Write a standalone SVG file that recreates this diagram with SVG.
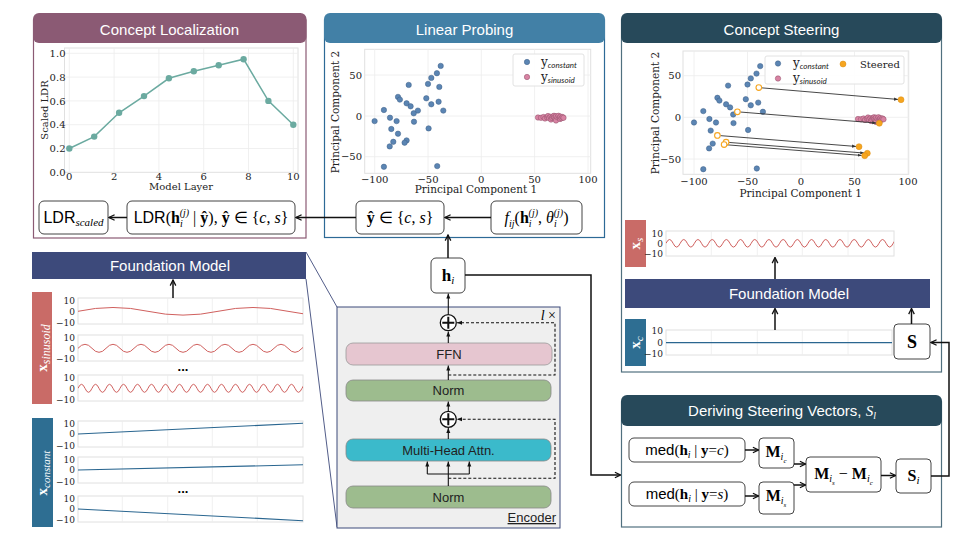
<svg xmlns="http://www.w3.org/2000/svg" width="973" height="540" viewBox="0 0 973 540">
<style>
.sf{font-family:"Liberation Sans",Arial,sans-serif}
.hdr{font-family:"Liberation Sans",Arial,sans-serif;font-size:15px;fill:#fff;text-anchor:middle}
.mr{font-family:"Liberation Serif","Times New Roman",serif}
.mb{font-family:"Liberation Serif","Times New Roman",serif;font-weight:bold}
.mi{font-family:"Liberation Serif","Times New Roman",serif;font-style:italic}
.pl{font-family:"DejaVu Serif",serif;font-size:10px;fill:#222}
.tk{font-family:"DejaVu Serif",serif;font-size:9px;fill:#222;text-anchor:end}
.box{fill:#fff;stroke:#444;stroke-width:1}
.con{fill:none;stroke:#111;stroke-width:1.5}
.thin{fill:none;stroke:#111;stroke-width:1.1}
.dash{fill:none;stroke:#111;stroke-width:1.1;stroke-dasharray:3 2}
.grid{stroke:#ECECEC;stroke-width:0.8;fill:none}
.frame{fill:#fff;stroke:#E0E0E0;stroke-width:1}
.bp{fill:#5B85B3;stroke:#3D5F86;stroke-width:0.5}
.pp{fill:#D883A3;stroke:#8E4D66;stroke-width:0.5}
.of{fill:#F6A51F;stroke:#D98A10;stroke-width:0.5}
.oh{fill:#fff;stroke:#F6A51F;stroke-width:1.1}
.sin{fill:none;stroke:#D0605E;stroke-width:1}
.cst{fill:none;stroke:#2A6690;stroke-width:1.1}
</style>
<defs>
<marker id="ah" viewBox="0 0 10 10" refX="9" refY="5" markerWidth="8" markerHeight="8" orient="auto" markerUnits="userSpaceOnUse"><path d="M2,1.5 L9,5 L2,8.5" fill="none" stroke="#111" stroke-width="1.6"/></marker>
<marker id="as" viewBox="0 0 10 10" refX="10" refY="5" markerWidth="5" markerHeight="5" orient="auto" markerUnits="userSpaceOnUse"><path d="M0,1 L10,5 L0,9 z" fill="#111"/></marker>
<marker id="ag" viewBox="0 0 10 10" refX="10" refY="5" markerWidth="4" markerHeight="4" orient="auto" markerUnits="userSpaceOnUse"><path d="M0,1 L10,5 L0,9 z" fill="#333"/></marker>
<clipPath id="c1"><rect x="78" y="298" width="225" height="26"/></clipPath>
<clipPath id="c2"><rect x="78" y="335" width="225" height="26"/></clipPath>
<clipPath id="c3"><rect x="78" y="375" width="225" height="26"/></clipPath>
<clipPath id="c7"><rect x="666" y="231" width="228" height="25"/></clipPath>
</defs>

<!-- Concept Localization -->
<g id="concept-localization">
<rect x="33.5" y="20" width="272.5" height="218" fill="#fff" stroke="#8B5A74" stroke-width="1.2"/>
<rect x="33" y="13" width="273.5" height="30" rx="6" fill="#8B5A74"/>
<text class="hdr" x="169.5" y="34.5">Concept Localization</text>
<rect class="frame" x="64.5" y="48" width="233.5" height="124.3"/>
<path class="grid" d="M69.3,48V172.3M114.1,48V172.3M158.9,48V172.3M203.7,48V172.3M248.5,48V172.3M293.3,48V172.3M64.5,148.5H298M64.5,124.7H298M64.5,100.9H298M64.5,77.1H298M64.5,53.3H298"/>
<polyline fill="none" stroke="#6BAAA0" stroke-width="1.5" points="69.3,148.5 94.2,136.6 119.1,112.8 144,96.1 168.9,78.3 193.8,71.2 218.7,65.2 243.6,59.2 268.4,100.9 293.3,124.7"/>
<g fill="#6BAAA0">
<circle cx="69.3" cy="148.5" r="3.2"/><circle cx="94.2" cy="136.6" r="3.2"/><circle cx="119.1" cy="112.8" r="3.2"/><circle cx="144" cy="96.1" r="3.2"/><circle cx="168.9" cy="78.3" r="3.2"/><circle cx="193.8" cy="71.2" r="3.2"/><circle cx="218.7" cy="65.2" r="3.2"/><circle cx="243.6" cy="59.2" r="3.2"/><circle cx="268.4" cy="100.9" r="3.2"/><circle cx="293.3" cy="124.7" r="3.2"/>
</g>
<g class="pl" text-anchor="end" font-size="10.5">
<text x="65.5" y="57">1.0</text><text x="65.5" y="80.8">0.8</text><text x="65.5" y="104.6">0.6</text><text x="65.5" y="128.4">0.4</text><text x="65.5" y="152.2">0.2</text><text x="65.5" y="176">0.0</text>
</g>
<g class="pl" text-anchor="middle" font-size="10.5">
<text x="69.3" y="180">0</text><text x="114.1" y="180">2</text><text x="158.9" y="180">4</text><text x="203.7" y="180">6</text><text x="248.5" y="180">8</text><text x="293.3" y="180">10</text>
<text x="181" y="190">Model Layer</text>
<text transform="translate(47.5,110) rotate(-90)">Scaled LDR</text>
</g>
</g>

<!-- Linear Probing -->
<g id="linear-probing">
<rect x="324.5" y="20" width="280" height="217.5" fill="#fff" stroke="#2D6A96" stroke-width="1.2"/>
<rect x="324" y="13" width="281" height="30" rx="6" fill="#4280A6"/>
<text class="hdr" x="464.5" y="34.5">Linear Probing</text>
<rect class="frame" x="364.7" y="49.3" width="226" height="124"/>
<path class="grid" d="M374.7,49.3V173.3M428,49.3V173.3M481.3,49.3V173.3M534.6,49.3V173.3M588,49.3V173.3M364.7,75H590.7M364.7,116H590.7M364.7,156.7H590.7"/>
<g class="bp">
<circle cx="440.7" cy="65.9" r="2.7"/><circle cx="436.9" cy="73.2" r="2.7"/><circle cx="431.3" cy="77.9" r="2.7"/><circle cx="439.3" cy="86.9" r="2.7"/><circle cx="408.7" cy="84.9" r="2.7"/><circle cx="428" cy="83.9" r="2.7"/><circle cx="398" cy="96.9" r="2.7"/><circle cx="399.9" cy="99.6" r="2.7"/><circle cx="426.3" cy="98.3" r="2.7"/><circle cx="438.6" cy="101.7" r="2.7"/><circle cx="406.6" cy="103.3" r="2.7"/><circle cx="410.6" cy="106.3" r="2.7"/><circle cx="431.3" cy="104.3" r="2.7"/><circle cx="443.3" cy="110.6" r="2.7"/><circle cx="383.9" cy="110" r="2.7"/><circle cx="417.9" cy="110.6" r="2.7"/><circle cx="413.7" cy="113.3" r="2.7"/><circle cx="374.6" cy="121.1" r="2.7"/><circle cx="390" cy="117.7" r="2.7"/><circle cx="396.6" cy="121.1" r="2.7"/><circle cx="414" cy="121.7" r="2.7"/><circle cx="428.6" cy="128.4" r="2.7"/><circle cx="391.3" cy="129" r="2.7"/><circle cx="398" cy="133.7" r="2.7"/><circle cx="406.6" cy="140.4" r="2.7"/><circle cx="404.6" cy="142.7" r="2.7"/><circle cx="393.3" cy="141.8" r="2.7"/><circle cx="389.7" cy="146.4" r="2.7"/><circle cx="383.9" cy="166.8" r="2.7"/><circle cx="437.2" cy="166.1" r="2.7"/>
</g>
<g class="pp">
<circle cx="538" cy="117.5" r="2.7"/><circle cx="541" cy="117.8" r="2.7"/><circle cx="543.5" cy="117" r="2.7"/><circle cx="545" cy="118.5" r="2.7"/><circle cx="547" cy="117.2" r="2.7"/><circle cx="548" cy="116" r="2.7"/><circle cx="549" cy="118" r="2.7"/><circle cx="550.5" cy="116.8" r="2.7"/><circle cx="551" cy="119.5" r="2.7"/><circle cx="552" cy="117.9" r="2.7"/><circle cx="553" cy="116.5" r="2.7"/><circle cx="554" cy="115.8" r="2.7"/><circle cx="554.5" cy="117.5" r="2.7"/><circle cx="555.5" cy="118.8" r="2.7"/><circle cx="556" cy="116.2" r="2.7"/><circle cx="556" cy="120.5" r="2.7"/><circle cx="557.5" cy="117.3" r="2.7"/><circle cx="558.5" cy="115.8" r="2.7"/><circle cx="559.5" cy="117.8" r="2.7"/><circle cx="560" cy="119" r="2.7"/><circle cx="560.5" cy="116.6" r="2.7"/><circle cx="561.5" cy="118.2" r="2.7"/><circle cx="562.5" cy="117" r="2.7"/><circle cx="563.5" cy="117.8" r="2.7"/>
</g>
<rect x="513" y="54" width="71" height="32" rx="2" fill="#fff" fill-opacity="0.9" stroke="#E2E2E2"/>
<circle class="bp" cx="527" cy="62" r="2.7"/>
<circle class="pp" cx="527" cy="77" r="2.7"/>
<text x="541" y="65.5" font-family="DejaVu Serif,serif" font-size="12" fill="#222">y<tspan font-family="Lato,'Open Sans',sans-serif" font-style="italic" font-size="8" dy="2">constant</tspan></text>
<text x="541" y="80.5" font-family="DejaVu Serif,serif" font-size="12" fill="#222">y<tspan font-family="Lato,'Open Sans',sans-serif" font-style="italic" font-size="8" dy="2">sinusoid</tspan></text>
<g class="pl" text-anchor="end">
<text x="362" y="78.6">50</text><text x="362" y="119.6">0</text><text x="362" y="160.3">−50</text>
</g>
<g class="pl" text-anchor="middle">
<text x="374.7" y="182.5">−100</text><text x="428" y="182.5">−50</text><text x="481.3" y="182.5">0</text><text x="534.6" y="182.5">50</text><text x="588" y="182.5">100</text>
<text x="476" y="193" font-size="10.5">Principal Component 1</text>
<text transform="translate(338.5,112) rotate(-90)" font-size="10.5">Principal Component 2</text>
</g>
</g>

<!-- Concept Steering -->
<g id="concept-steering">
<rect x="621.5" y="20" width="320" height="352" fill="#fff" stroke="#50707F" stroke-width="1.2"/>
<rect x="621" y="13" width="321" height="30" rx="6" fill="#27495A"/>
<text class="hdr" x="781.5" y="34.5">Concept Steering</text>
<rect class="frame" x="683" y="51" width="225.7" height="123.3"/>
<path class="grid" d="M694,51V174.3M747.5,51V174.3M801,51V174.3M854.5,51V174.3M908,51V174.3M683,75.7H908.7M683,117.3H908.7M683,159H908.7"/>
<g class="bp">
<circle cx="760.2" cy="66.1" r="2.7"/><circle cx="756.5" cy="73.6" r="2.7"/><circle cx="750.8" cy="78.4" r="2.7"/><circle cx="728.1" cy="85.6" r="2.7"/><circle cx="747.5" cy="84.5" r="2.7"/><circle cx="717.4" cy="97.8" r="2.7"/><circle cx="719.4" cy="100.6" r="2.7"/><circle cx="745.8" cy="99.2" r="2.7"/><circle cx="758.2" cy="102.6" r="2.7"/><circle cx="726.1" cy="104.3" r="2.7"/><circle cx="730.1" cy="107.4" r="2.7"/><circle cx="750.8" cy="105.3" r="2.7"/><circle cx="762.9" cy="111.8" r="2.7"/><circle cx="703.3" cy="111.1" r="2.7"/><circle cx="733.2" cy="114.5" r="2.7"/><circle cx="694" cy="122.5" r="2.7"/><circle cx="709.4" cy="119" r="2.7"/><circle cx="716" cy="122.5" r="2.7"/><circle cx="733.5" cy="123.1" r="2.7"/><circle cx="748.1" cy="130" r="2.7"/><circle cx="710.7" cy="130.6" r="2.7"/><circle cx="712.7" cy="143.6" r="2.7"/><circle cx="709.1" cy="148.4" r="2.7"/><circle cx="703.3" cy="169.2" r="2.7"/><circle cx="756.8" cy="168.5" r="2.7"/>
</g>
<g class="pp">
<circle cx="858" cy="119" r="2.7"/><circle cx="861" cy="119.3" r="2.7"/><circle cx="863.5" cy="118.5" r="2.7"/><circle cx="865" cy="120" r="2.7"/><circle cx="867" cy="118.7" r="2.7"/><circle cx="868" cy="117.5" r="2.7"/><circle cx="869" cy="119.5" r="2.7"/><circle cx="870.5" cy="118.3" r="2.7"/><circle cx="871" cy="121" r="2.7"/><circle cx="872" cy="119.4" r="2.7"/><circle cx="873" cy="118" r="2.7"/><circle cx="874" cy="117.3" r="2.7"/><circle cx="874.5" cy="119" r="2.7"/><circle cx="875.5" cy="120.3" r="2.7"/><circle cx="876" cy="117.7" r="2.7"/><circle cx="876" cy="122" r="2.7"/><circle cx="877.5" cy="118.8" r="2.7"/><circle cx="878.5" cy="117.3" r="2.7"/><circle cx="879.5" cy="119.3" r="2.7"/><circle cx="880" cy="120.5" r="2.7"/><circle cx="880.5" cy="118.1" r="2.7"/><circle cx="881.5" cy="119.7" r="2.7"/><circle cx="882.5" cy="118.5" r="2.7"/><circle cx="883.5" cy="119.3" r="2.7"/>
</g>
<g fill="none" stroke="#333" stroke-width="0.9" marker-end="url(#ag)">
<line x1="761.8" y1="87.85" x2="898" y2="99.45"/>
<line x1="740.4" y1="112.04" x2="876.3" y2="123.06"/>
<line x1="720.4" y1="135.64" x2="856" y2="146.46"/>
<line x1="729.1" y1="142.44" x2="864.3" y2="153.06"/>
<line x1="727.1" y1="144.84" x2="861.7" y2="155.46"/>
</g>
<g class="oh">
<circle cx="758.8" cy="87.6" r="2.8"/><circle cx="737.4" cy="111.8" r="2.8"/><circle cx="717.4" cy="135.4" r="2.8"/><circle cx="726.1" cy="142.2" r="2.8"/><circle cx="724.1" cy="144.6" r="2.8"/>
</g>
<g class="of">
<circle cx="901" cy="99.7" r="3"/><circle cx="879.3" cy="123.3" r="3"/><circle cx="859" cy="146.7" r="3"/><circle cx="867.3" cy="153.3" r="3"/><circle cx="864.7" cy="155.7" r="3"/>
</g>
<rect x="765" y="56" width="139" height="28" rx="2" fill="#fff" fill-opacity="0.9" stroke="#E2E2E2"/>
<circle class="bp" cx="778" cy="63.5" r="2.7"/>
<circle class="pp" cx="778" cy="78.5" r="2.7"/>
<circle class="of" cx="843" cy="64" r="3"/>
<text x="793" y="67" font-family="DejaVu Serif,serif" font-size="12" fill="#222">y<tspan font-family="Lato,'Open Sans',sans-serif" font-style="italic" font-size="8" dy="2">constant</tspan></text>
<text x="793" y="82" font-family="DejaVu Serif,serif" font-size="12" fill="#222">y<tspan font-family="Lato,'Open Sans',sans-serif" font-style="italic" font-size="8" dy="2">sinusoid</tspan></text>
<text x="860" y="67.5" class="pl" font-size="10.5">Steered</text>
<g class="pl" text-anchor="end">
<text x="681" y="79.3">50</text><text x="681" y="120.9">0</text><text x="681" y="162.6">−50</text>
</g>
<g class="pl" text-anchor="middle">
<text x="694" y="185">−100</text><text x="747.5" y="185">−50</text><text x="801" y="185">0</text><text x="854.5" y="185">50</text><text x="908" y="185">100</text>
<text x="800.7" y="196.5" font-size="10.5">Principal Component 1</text>
<text transform="translate(658.5,113) rotate(-90)" font-size="10.5">Principal Component 2</text>
</g>
</g>

<!-- steering: x_s plot -->
<g id="xs-plot">
<rect x="625" y="220" width="21" height="47" fill="#C96B67"/>
<text transform="translate(640,243.5) rotate(-90)" text-anchor="middle" fill="#fff"><tspan class="mb" font-size="15">x</tspan><tspan class="mi" font-size="11" dy="3">s</tspan></text>
<rect class="frame" x="666" y="231" width="228" height="25"/>
<path class="grid" d="M711.3,231V256M757.3,231V256M802.3,231V256M848,231V256"/>
<path class="sin" clip-path="url(#c7)" d="M666,243.3 q3.55,-7.6 7.1,0 t7.1,0 t7.1,0 t7.1,0 t7.1,0 t7.1,0 t7.1,0 t7.1,0 t7.1,0 t7.1,0 t7.1,0 t7.1,0 t7.1,0 t7.1,0 t7.1,0 t7.1,0 t7.1,0 t7.1,0 t7.1,0 t7.1,0 t7.1,0 t7.1,0 t7.1,0 t7.1,0 t7.1,0 t7.1,0 t7.1,0 t7.1,0 t7.1,0 t7.1,0 t7.1,0 t7.1,0 t7.1,0"/>
<text class="tk" x="663" y="236.5">10</text><text class="tk" x="663" y="246.5">0</text><text class="tk" x="663" y="257.2">−10</text>
</g>
<g id="fm-right">
<rect x="625" y="279" width="305" height="29" fill="#3D4A7B"/>
<text class="hdr" x="789" y="299">Foundation Model</text>
</g>
<g id="xc-plot">
<rect x="625" y="319" width="21" height="47" fill="#2E6E92"/>
<text transform="translate(640,342.5) rotate(-90)" text-anchor="middle" fill="#fff"><tspan class="mb" font-size="15">x</tspan><tspan class="mi" font-size="11" dy="3">c</tspan></text>
<rect class="frame" x="666" y="330" width="226" height="25"/>
<path class="grid" d="M711.3,330V355M757.3,330V355M802.3,330V355M848,330V355"/>
<path class="cst" d="M666,342.6 H892"/>
<text class="tk" x="663" y="334.2">10</text><text class="tk" x="663" y="345.5">0</text><text class="tk" x="663" y="356.5">−10</text>
</g>
<g id="steer-S">
<rect class="box" x="894" y="324" width="36" height="35" rx="4"/>
<text class="mb" x="912" y="348" font-size="18" text-anchor="middle">S</text>
</g>

<!-- Deriving Steering Vectors -->
<g id="deriving-steering">
<rect x="621.5" y="402" width="320" height="125" fill="#fff" stroke="#50707F" stroke-width="1.2"/>
<rect x="621" y="395" width="321" height="31" rx="6" fill="#27495A"/>
<text x="782" y="416" text-anchor="middle" fill="#fff"><tspan class="sf" font-size="15">Deriving Steering Vectors, </tspan><tspan class="mi" font-size="15">S</tspan><tspan class="mi" font-size="10" dy="3">l</tspan></text>
</g>
<g id="med-c">
<rect class="box" x="629" y="438" width="116" height="24" rx="5"/>
<text x="687" y="455" text-anchor="middle" font-size="15"><tspan class="sf">med</tspan><tspan class="mr">(</tspan><tspan class="mb">h</tspan><tspan class="mi" font-size="10" dy="3">i</tspan><tspan class="mr" dy="-3"> | </tspan><tspan class="mb">y</tspan><tspan class="mr">=</tspan><tspan class="mi">c</tspan><tspan class="mr">)</tspan></text>
</g>
<g id="med-s">
<rect class="box" x="629" y="482" width="116" height="24" rx="5"/>
<text x="687" y="499" text-anchor="middle" font-size="15"><tspan class="sf">med</tspan><tspan class="mr">(</tspan><tspan class="mb">h</tspan><tspan class="mi" font-size="10" dy="3">i</tspan><tspan class="mr" dy="-3"> | </tspan><tspan class="mb">y</tspan><tspan class="mr">=</tspan><tspan class="mi">s</tspan><tspan class="mr">)</tspan></text>
</g>
<g id="M-ic">
<rect class="box" x="759" y="438" width="35" height="30" rx="4"/>
<text x="776" y="457" text-anchor="middle"><tspan class="mb" font-size="16">M</tspan><tspan class="mi" font-size="10" dy="3">i</tspan><tspan class="mi" font-size="7" dy="3">c</tspan></text>
</g>
<g id="M-is">
<rect class="box" x="759" y="482" width="35" height="32" rx="4"/>
<text x="776" y="501" text-anchor="middle"><tspan class="mb" font-size="16">M</tspan><tspan class="mi" font-size="10" dy="3">i</tspan><tspan class="mi" font-size="7" dy="3">s</tspan></text>
</g>
<g id="M-diff">
<rect class="box" x="806" y="457" width="75" height="35" rx="4"/>
<text x="843.5" y="479" text-anchor="middle"><tspan class="mb" font-size="16">M</tspan><tspan class="mi" font-size="10" dy="3">i</tspan><tspan class="mi" font-size="7" dy="3">s</tspan><tspan class="mr" font-size="16" dy="-6"> − </tspan><tspan class="mb" font-size="16">M</tspan><tspan class="mi" font-size="10" dy="3">i</tspan><tspan class="mi" font-size="7" dy="3">c</tspan></text>
</g>
<g id="S-i">
<rect class="box" x="896" y="459" width="35" height="34" rx="4"/>
<text x="913.5" y="481" text-anchor="middle"><tspan class="mb" font-size="16">S</tspan><tspan class="mi" font-size="11" dy="3">i</tspan></text>
</g>

<!-- formula row -->
<g id="ldr-scaled">
<rect class="box" x="39" y="201" width="69" height="33" rx="5"/>
<text x="73.5" y="223" text-anchor="middle"><tspan class="sf" font-size="16">LDR</tspan><tspan class="mi" font-size="11" dy="3">scaled</tspan></text>
</g>
<g id="ldr">
<rect class="box" x="127" y="201" width="168" height="33" rx="5"/>
<text x="211" y="223" text-anchor="middle" font-size="16"><tspan class="sf">LDR</tspan><tspan class="mr">(</tspan><tspan class="mb">h</tspan><tspan class="mi" font-size="10" dy="4">i</tspan><tspan class="mi" font-size="10" dx="-3" dy="-11">(j)</tspan><tspan class="mr" dy="7"> | </tspan><tspan class="mb">ŷ</tspan><tspan class="mr">), </tspan><tspan class="mb">ŷ</tspan><tspan class="mr"> ∈ {</tspan><tspan class="mi">c</tspan><tspan class="mr">, </tspan><tspan class="mi">s</tspan><tspan class="mr">}</tspan></text>
</g>
<g id="y-hat">
<rect class="box" x="356" y="201" width="88" height="33" rx="5"/>
<text x="400" y="223" text-anchor="middle" font-size="16"><tspan class="mb">ŷ</tspan><tspan class="mr"> ∈ {</tspan><tspan class="mi">c</tspan><tspan class="mr">, </tspan><tspan class="mi">s</tspan><tspan class="mr">}</tspan></text>
</g>
<g id="f-ij">
<rect class="box" x="491" y="201" width="91" height="33" rx="5"/>
<text x="536.5" y="223" text-anchor="middle" font-size="16"><tspan class="mi">f</tspan><tspan class="mi" font-size="10" dy="4">ij</tspan><tspan class="mr" dy="-4">(</tspan><tspan class="mb">h</tspan><tspan class="mi" font-size="10" dy="4">i</tspan><tspan class="mi" font-size="10" dx="-3" dy="-11">(j)</tspan><tspan class="mr" dy="7">, </tspan><tspan class="mi">θ</tspan><tspan class="mi" font-size="10" dy="4">i</tspan><tspan class="mi" font-size="10" dx="-3" dy="-11">(j)</tspan><tspan class="mr" dy="7">)</tspan></text>
</g>
<g id="h-i">
<rect class="box" x="431" y="258" width="34" height="35" rx="5"/>
<text x="448" y="280.5" text-anchor="middle"><tspan class="mb" font-size="17">h</tspan><tspan class="mi" font-size="11" dy="3">i</tspan></text>
</g>

<!-- Foundation model (left) and inputs -->
<g id="zoom-lines" fill="none" stroke="#3D4A7B" stroke-width="0.9">
<line x1="306" y1="252" x2="337" y2="307"/>
<line x1="306" y1="279" x2="337" y2="527"/>
</g>
<g id="fm-left">
<rect x="32" y="252" width="274" height="27" fill="#3D4A7B"/>
<text class="hdr" x="170" y="271">Foundation Model</text>
</g>
<g id="x-sinusoid">
<rect x="32" y="292" width="20" height="112" fill="#C96B67"/>
<text transform="translate(46.5,348) rotate(-90)" text-anchor="middle" fill="#fff"><tspan class="mb" font-size="15">x</tspan><tspan class="mi" font-size="12" dy="3">sinusoid</tspan></text>
<rect class="frame" x="78" y="298" width="225" height="26"/>
<rect class="frame" x="78" y="335" width="225" height="26"/>
<rect class="frame" x="78" y="375" width="225" height="26"/>
<path class="grid" d="M122.3,298V324M167.7,298V324M212.3,298V324M257.3,298V324M122.3,335V361M167.7,335V361M212.3,335V361M257.3,335V361M122.3,375V401M167.7,375V401M212.3,375V401M257.3,375V401"/>
<path class="sin" clip-path="url(#c1)" d="M78,311.3 q35,-7.6 70,0 t70,0 t70,0 t70,0"/>
<path class="sin" clip-path="url(#c2)" d="M78,348.3 q7,-8 14,0 t14,0 t14,0 t14,0 t14,0 t14,0 t14,0 t14,0 t14,0 t14,0 t14,0 t14,0 t14,0 t14,0 t14,0 t14,0 t14,0"/>
<path class="sin" clip-path="url(#c3)" d="M78,388.3 q3.5,-8 7,0 t7,0 t7,0 t7,0 t7,0 t7,0 t7,0 t7,0 t7,0 t7,0 t7,0 t7,0 t7,0 t7,0 t7,0 t7,0 t7,0 t7,0 t7,0 t7,0 t7,0 t7,0 t7,0 t7,0 t7,0 t7,0 t7,0 t7,0 t7,0 t7,0 t7,0 t7,0 t7,0"/>
<text class="tk" x="75" y="303.9">10</text><text class="tk" x="75" y="314.5">0</text><text class="tk" x="75" y="325.5">−10</text>
<text class="tk" x="75" y="340.9">10</text><text class="tk" x="75" y="351.5">0</text><text class="tk" x="75" y="362.2">−10</text>
<text class="tk" x="75" y="380.9">10</text><text class="tk" x="75" y="391.5">0</text><text class="tk" x="75" y="402.5">−10</text>
<text x="183" y="371" text-anchor="middle" font-family="Liberation Sans,Arial,sans-serif" font-weight="bold" font-size="13">...</text>
</g>
<g id="x-constant">
<rect x="32" y="418" width="21" height="109" fill="#2E6E92"/>
<text transform="translate(47,473) rotate(-90)" text-anchor="middle" fill="#fff"><tspan class="mb" font-size="15">x</tspan><tspan class="mi" font-size="11" dy="3">constant</tspan></text>
<rect class="frame" x="78" y="421" width="225" height="26"/>
<rect class="frame" x="78" y="457" width="225" height="26"/>
<rect class="frame" x="78" y="496" width="225" height="26"/>
<path class="grid" d="M122.3,421V447M167.7,421V447M212.3,421V447M257.3,421V447M122.3,457V483M167.7,457V483M212.3,457V483M257.3,457V483M122.3,496V522M167.7,496V522M212.3,496V522M257.3,496V522"/>
<path class="cst" d="M78,434 L303,423.3"/>
<path class="cst" d="M78,470 L303,464.8"/>
<path class="cst" d="M78,509 L303,520.7"/>
<text class="tk" x="75" y="426.5">10</text><text class="tk" x="75" y="437.2">0</text><text class="tk" x="75" y="448.5">−10</text>
<text class="tk" x="75" y="462.5">10</text><text class="tk" x="75" y="473.2">0</text><text class="tk" x="75" y="484.9">−10</text>
<text class="tk" x="75" y="501.5">10</text><text class="tk" x="75" y="512.2">0</text><text class="tk" x="75" y="523.2">−10</text>
<text x="183" y="493" text-anchor="middle" font-family="Liberation Sans,Arial,sans-serif" font-weight="bold" font-size="13">...</text>
</g>

<!-- Encoder -->
<g id="encoder">
<rect x="337" y="307" width="223" height="221" fill="#EFEFEF" stroke="#3D4A7B" stroke-width="1"/>
<text x="556" y="320" text-anchor="end" font-size="14"><tspan class="mi">l</tspan><tspan class="mr"> ×</tspan></text>
<text class="sf" x="556" y="522" text-anchor="end" font-size="13" fill="#222" text-decoration="underline">Encoder</text>
</g>
<g id="ffn">
<rect x="346" y="343" width="206" height="22" rx="7" fill="#E6C6D0" stroke="#999" stroke-width="0.8"/>
<text class="sf" x="449" y="358.5" font-size="13" text-anchor="middle" fill="#222">FFN</text>
</g>
<g id="norm-upper">
<rect x="346" y="380" width="205" height="21" rx="7" fill="#9DBC8E" stroke="#888" stroke-width="0.8"/>
<text class="sf" x="448.5" y="395" font-size="13" text-anchor="middle" fill="#222">Norm</text>
</g>
<g id="mha">
<rect x="346" y="439" width="205" height="22" rx="7" fill="#3BBACB" stroke="#888" stroke-width="0.8"/>
<text class="sf" x="448.5" y="454.5" font-size="13" text-anchor="middle" fill="#222">Multi-Head Attn.</text>
</g>
<g id="norm-lower">
<rect x="346" y="486" width="205" height="22" rx="7" fill="#9DBC8E" stroke="#888" stroke-width="0.8"/>
<text class="sf" x="448.5" y="501.5" font-size="13" text-anchor="middle" fill="#222">Norm</text>
</g>
<g id="add-upper">
<circle cx="448.3" cy="322.7" r="8" fill="#fff" stroke="#111" stroke-width="1.3"/>
<path d="M442.3,322.7H454.3M448.3,316.7V328.7" stroke="#111" stroke-width="2"/>
</g>
<g id="add-lower">
<circle cx="448.3" cy="419.3" r="8" fill="#fff" stroke="#111" stroke-width="1.3"/>
<path d="M442.3,419.3H454.3M448.3,413.3V425.3" stroke="#111" stroke-width="2"/>
</g>

<!-- connectors -->
<g id="connectors">
<path class="con" marker-end="url(#ah)" d="M127,217.5 H109"/>
<path class="con" marker-end="url(#ah)" d="M356,217.5 H296"/>
<path class="con" marker-end="url(#ah)" d="M491,217.5 H445"/>
<path class="con" marker-end="url(#ah)" d="M448,258 V235"/>
<path class="con" marker-end="url(#ah)" d="M465,275 H591 V475 H620.5"/>
<path class="con" marker-end="url(#ah)" d="M173,298 V280"/>
<path class="con" marker-end="url(#ah)" d="M775,279 V257.5"/>
<path class="con" marker-end="url(#ah)" d="M775,330 V308.5"/>
<path class="con" marker-end="url(#ah)" d="M911.5,324 V308.5"/>
<path class="con" marker-end="url(#ah)" d="M931,476 H949 V342.5 H931"/>
<path class="con" marker-end="url(#ah)" d="M745,450 H758.5"/>
<path class="con" marker-end="url(#ah)" d="M745,496 H758.5"/>
<path class="con" marker-end="url(#ah)" d="M794,464 H805.5"/>
<path class="con" marker-end="url(#ah)" d="M794,485 H805.5"/>
<path class="con" marker-end="url(#ah)" d="M881,475.5 H895.5"/>
<path class="thin" d="M448.3,486 V474 M427.3,474 H469.3"/>
<path class="thin" marker-end="url(#as)" d="M427.3,474 V461.5"/>
<path class="thin" marker-end="url(#as)" d="M448.3,474 V461.5"/>
<path class="thin" marker-end="url(#as)" d="M469.3,474 V461.5"/>
<path class="dash" marker-end="url(#as)" d="M448.3,478.3 H555 V419.3 H457"/>
<path class="thin" marker-end="url(#as)" d="M448.3,439 V428"/>
<path class="thin" marker-end="url(#as)" d="M448.3,411 V401.5"/>
<path class="thin" marker-end="url(#as)" d="M448.3,380 V365.5"/>
<path class="dash" marker-end="url(#as)" d="M448.3,375 H555 V322.7 H457"/>
<path class="thin" marker-end="url(#as)" d="M448.3,343 V331.5"/>
<path class="thin" marker-end="url(#as)" d="M448.3,314.5 V293.5"/>
</g>
</svg>
